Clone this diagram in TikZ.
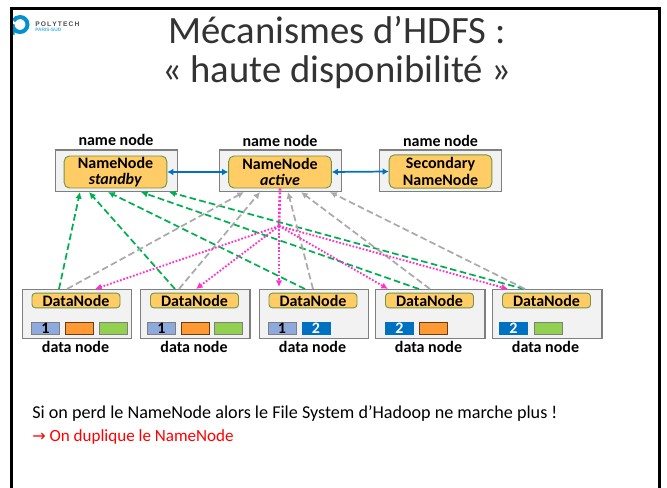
\documentclass[tikz,border=0pt]{standalone}
\usepackage{fontspec}
\setmainfont{Carlito}
\newfontfamily\logofont{Liberation Sans}
\usetikzlibrary{calc,arrows.meta}

\definecolor{slidegray}{RGB}{242,242,242}
\definecolor{boxgray}{RGB}{127,127,127}
\definecolor{nodeyellow}{RGB}{255,204,102}
\definecolor{nodeedge}{RGB}{112,150,70}
\definecolor{blockblue}{RGB}{142,169,219}
\definecolor{blockdark}{RGB}{0,112,192}
\definecolor{blockorange}{RGB}{255,153,51}
\definecolor{blockgreen}{RGB}{146,208,80}
\definecolor{linegreen}{RGB}{0,176,80}
\definecolor{linegray}{RGB}{170,170,170}
\definecolor{linepink}{RGB}{255,51,204}
\definecolor{logoblue}{RGB}{0,146,208}

\begin{document}
\begin{tikzpicture}[x=0.75pt,y=-0.75pt,
    outerbox/.style={draw=boxgray,fill=slidegray,line width=0.9pt,minimum width=#1,inner sep=0pt,anchor=north west},
    namebox/.style={draw=nodeedge,fill=nodeyellow,line width=0.7pt,rounded corners=4pt,minimum width=77pt,minimum height=24pt,inner sep=0pt,align=center,font=\fontsize{12}{12.5}\selectfont\bfseries,text=black},
    databox/.style={draw=nodeedge,fill=nodeyellow,line width=0.7pt,rounded corners=2.5pt,minimum width=66pt,minimum height=11pt,inner sep=0pt,font=\fontsize{12}{12}\selectfont\bfseries,text=black},
    caption/.style={font=\fontsize{12}{12}\selectfont\bfseries,inner sep=0pt},
    titletext/.style={font=\fontsize{29}{29}\selectfont,text=black!80},
    bodytext/.style={anchor=west,inner sep=0pt,font=\fontsize{13.6}{13.6}\selectfont},
    block/.style={minimum width=21pt,minimum height=9pt,inner sep=0pt,line width=0.7pt,font=\fontsize{12}{9}\selectfont\bfseries},
    blockone/.style={block,draw=boxgray,fill=blockblue,text=black},
    blocktwo/.style={block,draw=blockdark,fill=blockdark,text=white},
    blockor/.style={block,draw=black!60!blockorange,fill=blockorange},
    blockgr/.style={block,draw=boxgray,fill=blockgreen},
    link/.style={draw=blockdark,line width=1.3pt,{Latex[length=4.5pt,width=5pt]}-{Latex[length=4.5pt,width=5pt]}},
    greenline/.style={draw=linegreen,line width=1.3pt,dash pattern=on 5pt off 2.5pt,-{Latex[length=5pt,width=5pt]}},
    grayline/.style={draw=linegray,line width=1.3pt,dash pattern=on 5pt off 2.5pt,-{Latex[length=5pt,width=5pt]}},
    pinkline/.style={draw=linepink,line width=1.4pt,dash pattern=on 1.3pt off 1.3pt,-{Latex[length=5pt,width=5pt]}},
    pinktrunk/.style={draw=linepink,line width=2pt,dash pattern=on 1.6pt off 1.3pt}]

\useasboundingbox (0,0) rectangle (667,488);

% Logo
\draw[logoblue,line width=3pt] (12.5,35) -- (12.5,24.5) arc (180:-150:7.5);
\node[inner sep=0pt,anchor=west,font=\logofont\fontsize{5}{5}\selectfont\bfseries,text=black!70] (logotop) at (35,24.5) {P\,O\,L\,Y\,T\,E\,C\,H};
\node[inner sep=0pt,anchor=west,font=\logofont\fontsize{3.6}{4}\selectfont\bfseries,text=logoblue!70] (logosub) at (35,29.7) {PARIS-SUD};

% Slide frame
\draw[line width=2.2pt] (11.5,488) -- (11.5,8.3) -- (659.5,8.3) -- (659.5,488);

% Title
\node[titletext] (title1) at (337,30) {Mécanismes d’HDFS :};
\node[titletext] (title2) at (337,72) {« haute disponibilité »};

% Name nodes
\node[outerbox=91.5pt,minimum height=31pt] (standby) at (54.5,149.5) {};
\node[outerbox=91.5pt,minimum height=31pt] (active) at (218.5,149.5) {};
\node[outerbox=91.5pt,minimum height=31pt] (second) at (379,149.5) {};
\node[namebox] (nnstandby) at (115.5,172) {NameNode\\\textit{standby}};
\node[namebox] (nnactive) at (280,172) {NameNode\\\textit{active}};
\node[namebox,minimum height=25pt] (nnsecond) at (440.5,171.5) {Secondary\\NameNode};
\node[caption] (capstandby) at (116,140) {name node};
\node[caption] (capactive) at (280,140.5) {name node};
\node[caption] (capsecond) at (440.5,140.5) {name node};

% Data nodes
\node[outerbox=82pt,minimum height=36.5pt] (data1) at (21.5,289) {};
\node[outerbox=82pt,minimum height=36.5pt] (data2) at (140,289) {};
\node[outerbox=82pt,minimum height=36.5pt] (data3) at (258.5,289) {};
\node[outerbox=82pt,minimum height=36.5pt] (data4) at (375,289) {};
\node[outerbox=82pt,minimum height=36.5pt] (data5) at (492,289) {};
\node[databox] (dn1) at (76,300.5) {DataNode};
\node[databox] (dn2) at (194.5,300.5) {DataNode};
\node[databox] (dn3) at (313,300.5) {DataNode};
\node[databox] (dn4) at (429.5,300.5) {DataNode};
\node[databox] (dn5) at (546.5,300.5) {DataNode};
\node[caption] (capdata1) at (75.5,347) {data node};
\node[caption] (capdata2) at (194,347) {data node};
\node[caption] (capdata3) at (312.5,347) {data node};
\node[caption] (capdata4) at (428.5,347) {data node};
\node[caption] (capdata5) at (545.5,347) {data node};

% Blocks
\node[blockone] (b11) at (45.5,328) {1};
\node[blockor] (b12) at (79,328) {};
\node[blockgr] (b13) at (113.5,328) {};
\node[blockone] (b21) at (161.5,328) {1};
\node[blockor] (b22) at (195.5,328) {};
\node[blockgr] (b23) at (228,328) {};
\node[blockone] (b31) at (282,328) {1};
\node[blocktwo] (b32) at (316,328) {2};
\node[blocktwo] (b41) at (399.5,328) {2};
\node[blockor] (b42) at (433,328) {};
\node[blocktwo] (b51) at (513.5,328) {2};
\node[blockgr] (b52) at (548,328) {};

% Links between name nodes
\draw[link] (nnstandby.east) -- (nnactive.west);
\draw[link] (nnactive.east) -- (nnsecond.west);

% Green lines to the standby node
\draw[greenline] ($(data1.north west)+(37.5,0)$) -- ($(standby.south west)+(25.5,0)$);
\draw[greenline] ($(data2.north west)+(35,0)$) -- ($(standby.south west)+(34.5,0)$);
\draw[greenline] ($(data3.north west)+(46.5,0)$) -- ($(standby.south west)+(53.5,0)$);
\draw[greenline] ($(data4.north west)+(44,0)$) -- ($(standby.south west)+(86.5,0)$);
\draw[greenline] ($(data5.north west)+(32,0)$) -- ($(standby.south west)+(114.5,0)$);

% Gray lines to the active node
\draw[grayline] ($(data1.north west)+(45.5,0)$) -- ($(active.south west)+(25.5,0)$);
\draw[grayline] ($(data2.north west)+(39,0)$) -- ($(active.south west)+(41.5,0)$);
\draw[grayline] ($(data3.north west)+(54.5,0)$) -- ($(active.south west)+(69.5,0)$);
\draw[grayline] ($(data4.north west)+(55,0)$) -- ($(active.south west)+(82.5,0)$);
\draw[grayline] ($(data5.north west)+(33,0)$) -- ($(active.south west)+(111.5,0)$);

% Pink lines from the active node
\coordinate (hub) at (279,226);
\draw[pinktrunk] (nnactive.south) -- (hub);
\draw[pinkline] (hub) -- ($(data1.north west)+(73.5,0)$);
\draw[pinkline] (hub) -- ($(data2.north west)+(56,0)$);
\draw[pinkline] (hub) -- ($(data3.north west)+(20.5,-2)$);
\draw[pinkline] (hub) -- ($(data4.north west)+(13,0)$);
\draw[pinkline] (hub) -- ($(data5.north west)+(16,0)$);

% Bottom text
\node[bodytext] (line1) at (32,414) {Si on perd le NameNode alors le File System d’Hadoop ne marche plus !};
\node[bodytext,text=red,font=\fontsize{12.8}{13}\selectfont] (line2) at (32,437) {{\fontspec{DejaVu Sans}\fontsize{12}{12}\selectfont →} On duplique le NameNode};

\end{tikzpicture}
\end{document}
